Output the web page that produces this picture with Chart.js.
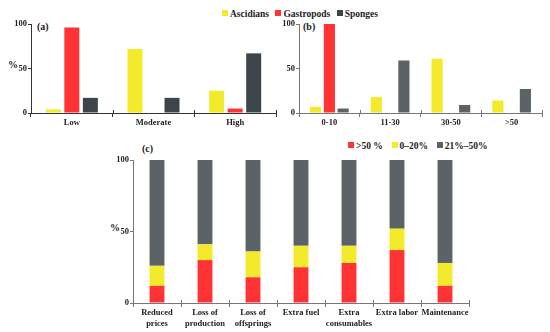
<!DOCTYPE html>
<html>
<head>
<meta charset="utf-8">
<script src="https://cdn.jsdelivr.net/npm/chart.js@4/dist/chart.umd.min.js"></script>
<style>
  body { margin: 0; background: #fff; }
  #wrap { position: relative; width: 550px; height: 332px; font-family: 'Liberation Serif', 'Times New Roman', serif; font-weight: bold; color: #222; }
  canvas { position: absolute; }
  .lbl { position: absolute; font-size: 10px; line-height: 10px; white-space: nowrap; }
  .legend { position: absolute; font-size: 9.5px; line-height: 10px; white-space: nowrap; }
  .legend span.sq { display: inline-block; width: 6px; height: 6px; margin: 0 2px 0 4px; vertical-align: 1px; }
</style>
</head>
<body>
<div id="wrap">
  <div class="legend" style="left:218px; top:9px;">
    <span class="sq" style="background:#f2ea2a"></span>Ascidians
    <span class="sq" style="background:#ff3333"></span>Gastropods
    <span class="sq" style="background:#3c4549"></span>Sponges
  </div>
  <div class="legend" style="left:344px; top:141px;">
    <span class="sq" style="background:#ff3333"></span>&gt;50 %&nbsp;
    <span class="sq" style="background:#f2ea2a"></span>0&ndash;20%&nbsp;
    <span class="sq" style="background:#5b6367"></span>21%&ndash;50%
  </div>
  <div class="lbl" style="left:8px; top:60px;">%</div>
  <div class="lbl" style="left:37px; top:22px;">(a)</div>
  <div class="lbl" style="left:303px; top:22px;">(b)</div>
  <div class="lbl" style="left:110px; top:223px;">%</div>
  <div class="lbl" style="left:142px; top:144px;">(c)</div>
  <canvas id="chartA" width="285" height="132" style="left:0; top:0;"></canvas>
  <canvas id="chartB" width="280" height="132" style="left:270px; top:0;"></canvas>
  <canvas id="chartC" width="390" height="192" style="left:95px; top:140px;"></canvas>
</div>
<script>
'use strict';

//===== data =====//
var percentTicks = [0, 50, 100];

// (a) severity
var severityCats = ['Low', 'Moderate', 'High'];
var ascidiansA = [4, 72, 25];
var gastropodsA = [96, 0, 5];
var spongesA = [17, 17, 67];

// (b) size classes
var sizeCats = ['0-10', '11-30', '30-50', '>50'];
var ascidiansB = [7, 18, 61, 14];
var gastropodsB = [100, 0, 0, 0];
var spongesB = [5, 59, 9, 27];

// (c) impacts, stacked
var impactCats = [['Reduced', 'prices'], ['Loss of', 'production'], ['Loss of', 'offsprings'],
  ['Extra fuel'], ['Extra', 'consumables'], ['Extra labor'], ['Maintenance']];
var over50 = [12, 30, 18, 25, 28, 37, 12];
var upTo20 = [14, 11, 18, 15, 12, 15, 16];
var mid21to50 = [74, 59, 64, 60, 60, 48, 72];

var YELLOW = '#f2ea2a', RED = '#ff3333', DARK = '#3c4549', GREY = '#5b6367';
var tickFont = { family: "'Liberation Serif', 'Times New Roman', serif", weight: 'bold', size: 8.5 };

// category separators poke a little above the x axis too
var crossTicks = {
  id: 'crossTicks',
  afterDraw: function (chart) {
    var xs = chart.scales.x, n = chart.data.labels.length;
    var ctx = chart.ctx, step = (xs.right - xs.left) / n;
    ctx.save();
    ctx.strokeStyle = chart.options.scales.x.border.color;
    ctx.lineWidth = 1;
    for (var i = 1; i <= n; i++) {
      var x = Math.round(xs.left + i * step) + 0.5;
      ctx.beginPath();
      ctx.moveTo(x, xs.top - 3);
      ctx.lineTo(x, xs.top);
      ctx.stroke();
    }
    ctx.restore();
  }
};

function makeScales(yWidth, xHeight, axisColor, stacked) {
  return {
    x: {
      stacked: stacked,
      border: { display: true, color: axisColor, width: 1 },
      grid: { drawOnChartArea: false, drawTicks: true, tickLength: 4, color: axisColor, offset: true },
      ticks: { color: '#222', font: tickFont, padding: 1, maxRotation: 0, autoSkip: false },
      afterFit: function (s) { s.height = xHeight; }
    },
    y: {
      stacked: stacked,
      min: 0, max: 100,
      afterBuildTicks: function (s) { s.ticks = percentTicks.map(function (v) { return { value: v }; }); },
      border: { display: true, color: axisColor, width: 1 },
      grid: { drawOnChartArea: false, drawTicks: true, tickLength: 3, color: axisColor },
      ticks: { color: '#222', font: tickFont, padding: 1 },
      afterFit: function (s) { s.width = yWidth; }
    }
  };
}

function groupedBars(id, labels, a, g, s, spongeColor, yWidth, padRight, axisColor) {
  return new Chart(document.getElementById(id), {
    type: 'bar',
    data: {
      labels: labels,
      datasets: [
        { label: 'Ascidians', data: a, backgroundColor: YELLOW },
        { label: 'Gastropods', data: g, backgroundColor: RED },
        { label: 'Sponges', data: s, backgroundColor: spongeColor }
      ]
    },
    options: {
      responsive: false,
      animation: false,
      datasets: { bar: { categoryPercentage: 0.68, barPercentage: 0.81 } },
      layout: { padding: { top: 24, right: padRight, left: 0, bottom: 0 } },
      plugins: { legend: { display: false }, tooltip: { enabled: false } },
      scales: makeScales(yWidth, 19, axisColor, false)
    },
    plugins: [crossTicks]
  });
}

groupedBars('chartA', severityCats, ascidiansA, gastropodsA, spongesA, DARK, 31, 9, '#333');
groupedBars('chartB', sizeCats, ascidiansB, gastropodsB, spongesB, GREY, 29, 8, '#777');

new Chart(document.getElementById('chartC'), {
  type: 'bar',
  data: {
    labels: impactCats,
    datasets: [
      { label: '>50 %', data: over50, backgroundColor: RED },
      { label: '0–20%', data: upTo20, backgroundColor: YELLOW },
      { label: '21%–50%', data: mid21to50, backgroundColor: GREY }
    ]
  },
  options: {
    responsive: false,
    animation: false,
    datasets: { bar: { categoryPercentage: 1, barPercentage: 0.31 } },
    layout: { padding: { top: 20, right: 16, left: 0, bottom: 0 } },
    plugins: { legend: { display: false }, tooltip: { enabled: false } },
    scales: makeScales(38, 29, '#777', true)
  },
  plugins: [crossTicks]
});
</script>
</body>
</html>
